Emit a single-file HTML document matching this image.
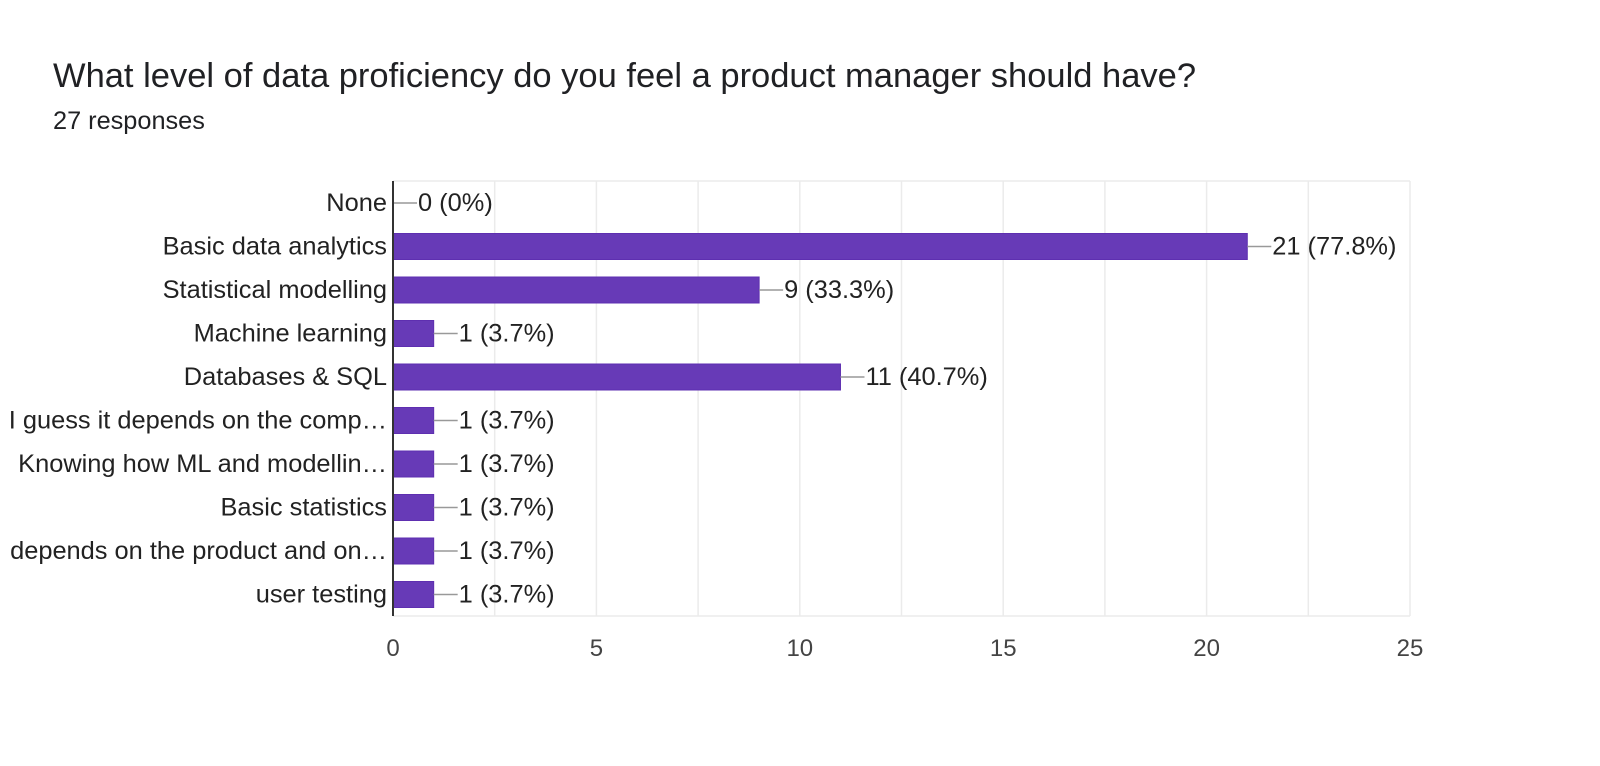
<!DOCTYPE html>
<html><head><meta charset="utf-8"><style>
body{margin:0;background:#fff;font-family:"Liberation Sans",Arial,sans-serif;}
</style></head><body>
<svg width="1600" height="761" xmlns="http://www.w3.org/2000/svg">
<text x="53" y="87" font-size="34.5" fill="#202124">What level of data proficiency do you feel a product manager should have?</text>
<text x="53" y="129" font-size="25.3" fill="#202124">27 responses</text>
<g id="grid"></g><g id="bars"></g><g id="ticks"></g>
<script>
const categories=["None","Basic data analytics","Statistical modelling","Machine learning","Databases & SQL","I guess it depends on the comp…","Knowing how ML and modellin…","Basic statistics","depends on the product and on…","user testing"];
const values=[0,21,9,1,11,1,1,1,1,1];
const valueLabels=["0 (0%)","21 (77.8%)","9 (33.3%)","1 (3.7%)","11 (40.7%)","1 (3.7%)","1 (3.7%)","1 (3.7%)","1 (3.7%)","1 (3.7%)"];
const tickValues=[0,5,10,15,20,25];
const NS="http://www.w3.org/2000/svg";
const x=v=>393+v*(1410-393)/25;
const y=i=>203+i*43.5;
function mk(t,a,p){const e=document.createElementNS(NS,t);for(const k in a)e.setAttribute(k,a[k]);p.appendChild(e);return e;}
const grid=document.getElementById('grid'),bars=document.getElementById('bars'),ticks=document.getElementById('ticks');
for(let v=2.5;v<=25;v+=2.5){const l=mk('line',{x1:x(v),x2:x(v),y1:181,y2:616,stroke:'#ebebeb','stroke-width':1.5},grid);

}
const tl=mk('line',{x1:393,x2:1410,y1:181,y2:181,stroke:'#ebebeb','stroke-width':1.5},grid);


const bl=mk('line',{x1:393,x2:1410,y1:616,y2:616,stroke:'#ebebeb','stroke-width':1.5},grid);


categories.forEach((c,i)=>{
 const cy=y(i);
 const lab=mk('text',{x:387,y:cy+8,'text-anchor':'end','font-size':25.4,fill:'#222'},bars);lab.textContent=c;
 
 
 if(values[i]>0){const r=mk('rect',{x:x(0),y:cy-13,width:x(values[i])-x(0),height:26,fill:'#673ab7',stroke:'#5e2fb0','stroke-width':1},bars);
 
 }
 const ex=x(values[i]);
 const ld=mk('line',{x1:ex,x2:ex+24,y1:cy,y2:cy,stroke:'#999','stroke-width':1.5},bars);
 
 
 const vt=mk('text',{x:ex+25,y:cy+8,'font-size':25.4,fill:'#222'},bars);vt.textContent=valueLabels[i];
 
 
});
const ax=mk('line',{x1:393,x2:393,y1:181,y2:616,stroke:'#333','stroke-width':2},ticks);


tickValues.forEach(v=>{const t=mk('text',{x:x(v),y:656,'text-anchor':'middle','font-size':24,fill:'#444'},ticks);t.textContent=v;

});
</script>
</svg>
</body></html>
